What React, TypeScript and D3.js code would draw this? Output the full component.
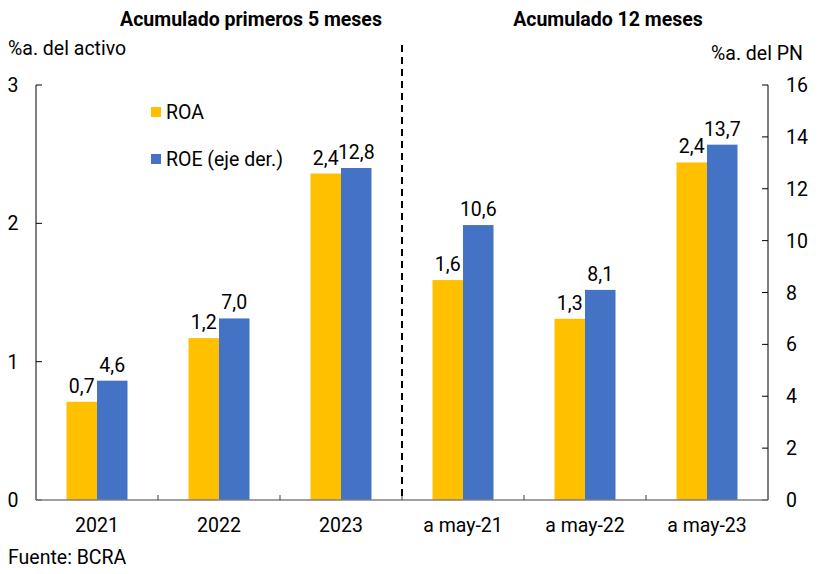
import React, { useEffect, useRef } from 'react';
import * as d3 from 'd3';

const categories = ['2021', '2022', '2023', 'a may-21', 'a may-22', 'a may-23'];
const roaValues = [0.71, 1.17, 2.36, 1.59, 1.31, 2.44];
const roeValues = [4.6, 7.0, 12.8, 10.6, 8.1, 13.7];
const leftTicks = [0, 1, 2, 3];
const rightTicks = [0, 2, 4, 6, 8, 10, 12, 14, 16];
const seriesNames = ['ROA', 'ROE (eje der.)'];
const groupTitles = ['Acumulado primeros 5 meses', 'Acumulado 12 meses'];

const W = 825;
const H = 574;
const FONT = 'Roboto, "Noto Sans", sans-serif';
const FS = 19.5;
const YELLOW = '#FFC000';
const BLUE = '#4472C4';

const fmt = (v: number) => v.toFixed(1).replace('.', ',');

export default function App() {
  const svgRef = useRef<SVGSVGElement>(null);

  useEffect(() => {
    if (!svgRef.current) return;
    const svg = d3.select(svgRef.current);
    svg.selectAll('*').remove();

    const left = 36, right = 768, top = 85, bottom = 500;

    const x = d3.scaleBand().domain(categories).range([left, right]).paddingInner(0).paddingOuter(0);
    const inner = d3.scaleBand().domain(['roa', 'roe']).range([0, x.bandwidth()]).paddingInner(0).paddingOuter(1);
    const yL = d3.scaleLinear().domain([0, 3]).range([bottom, top]);
    const yR = d3.scaleLinear().domain([0, 16]).range([bottom, top]);

    const g = svg.append('g').style('font-family', FONT);

    // bars
    g.selectAll('.roa').data(categories).join('rect')
      .attr('x', d => x(d)! + inner('roa')!)
      .attr('y', (d, i) => yL(roaValues[i]))
      .attr('width', inner.bandwidth())
      .attr('height', (d, i) => bottom - yL(roaValues[i]))
      .attr('fill', YELLOW);
    g.selectAll('.roe').data(categories).join('rect')
      .attr('x', d => x(d)! + inner('roe')!)
      .attr('y', (d, i) => yR(roeValues[i]))
      .attr('width', inner.bandwidth())
      .attr('height', (d, i) => bottom - yR(roeValues[i]))
      .attr('fill', BLUE);

    // value labels
    g.selectAll('.roaLbl').data(categories).join('text')
      .attr('x', d => x(d)! + inner('roa')! + inner.bandwidth() / 2)
      .attr('y', (d, i) => yL(roaValues[i]) - 9)
      .attr('text-anchor', 'middle')
      .attr('font-size', FS)
      .attr('fill', '#000')
      .text((d, i) => fmt(roaValues[i]));
    g.selectAll('.roeLbl').data(categories).join('text')
      .attr('x', d => x(d)! + inner('roe')! + inner.bandwidth() / 2)
      .attr('y', (d, i) => yR(roeValues[i]) - 9)
      .attr('text-anchor', 'middle')
      .attr('font-size', FS)
      .attr('fill', '#000')
      .text((d, i) => fmt(roeValues[i]));

    // left axis
    g.append('line').attr('x1', left).attr('x2', left).attr('y1', top).attr('y2', bottom)
      .attr('stroke', '#000').attr('stroke-width', 1);
    leftTicks.forEach(t => {
      g.append('line').attr('x1', left).attr('x2', left + 6).attr('y1', yL(t)).attr('y2', yL(t))
        .attr('stroke', '#000');
      g.append('text').attr('x', 13).attr('y', yL(t) + 7).attr('text-anchor', 'middle')
        .attr('font-size', FS).text(String(t));
    });

    // right axis
    g.append('line').attr('x1', right).attr('x2', right).attr('y1', top).attr('y2', bottom)
      .attr('stroke', '#000').attr('stroke-width', 1);
    rightTicks.forEach(t => {
      g.append('line').attr('x1', right - 6).attr('x2', right).attr('y1', yR(t)).attr('y2', yR(t))
        .attr('stroke', '#000');
      g.append('text').attr('x', 786).attr('y', yR(t) + 7).attr('text-anchor', 'start')
        .attr('font-size', FS).text(String(t));
    });

    // bottom axis
    g.append('line').attr('x1', left).attr('x2', right).attr('y1', bottom).attr('y2', bottom)
      .attr('stroke', '#808080').attr('stroke-width', 1.5);
    categories.slice(1).forEach(c => {
      g.append('line').attr('x1', x(c)!).attr('x2', x(c)!).attr('y1', bottom).attr('y2', bottom - 5)
        .attr('stroke', '#404040');
    });
    g.selectAll('.cat').data(categories).join('text')
      .attr('x', d => x(d)! + x.bandwidth() / 2)
      .attr('y', 532)
      .attr('text-anchor', 'middle')
      .attr('font-size', FS)
      .text(d => d);

    // divider
    const divX = x(categories[3])!;
    g.append('line').attr('x1', divX).attr('x2', divX).attr('y1', 45).attr('y2', bottom)
      .attr('stroke', '#000').attr('stroke-width', 2).attr('stroke-dasharray', '7,5');

    // titles
    g.append('text').attr('x', 251).attr('y', 26).attr('text-anchor', 'middle')
      .attr('font-size', FS).attr('font-weight', 'bold').text(groupTitles[0]);
    g.append('text').attr('x', 608).attr('y', 26).attr('text-anchor', 'middle')
      .attr('font-size', FS).attr('font-weight', 'bold').text(groupTitles[1]);
    g.append('text').attr('x', 8).attr('y', 55).attr('font-size', FS).text('%a. del activo');
    g.append('text').attr('x', 803).attr('y', 60).attr('text-anchor', 'end')
      .attr('font-size', FS).text('%a. del PN');

    // legend
    [YELLOW, BLUE].forEach((c, i) => {
      g.append('rect').attr('x', 151).attr('y', 107 + i * 47).attr('width', 10).attr('height', 10)
        .attr('fill', c);
      g.append('text').attr('x', 166).attr('y', 119 + i * 47).attr('font-size', FS).text(seriesNames[i]);
    });

    g.append('text').attr('x', 8).attr('y', 564).attr('font-size', FS).text('Fuente: BCRA');
  }, []);

  return (
    <svg ref={svgRef} width={W} height={H}
      style={{ position: 'absolute', left: 0, top: 0, background: '#fff' }} />
  );
}
